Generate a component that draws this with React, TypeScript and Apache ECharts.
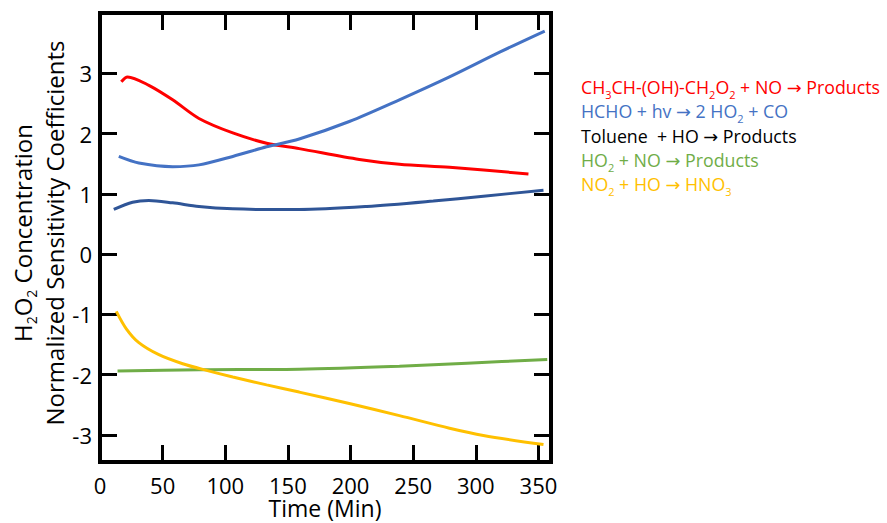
import React, { useEffect, useRef } from "react";
import * as echarts from "echarts";

const redTime = [17, 22, 39, 58, 79, 106, 133, 159, 207, 239, 279, 342];
const redValues = [2.86, 2.94, 2.8, 2.56, 2.25, 2.01, 1.84, 1.75, 1.57, 1.49, 1.44, 1.33];

const blueTime = [15, 31, 58, 79, 106, 133, 159, 199, 239, 279, 319, 355];
const blueValues = [1.62, 1.51, 1.45, 1.48, 1.62, 1.78, 1.91, 2.2, 2.56, 2.94, 3.35, 3.7];

const tolueneTime = [11, 26, 39, 58, 79, 106, 133, 159, 213, 266, 306, 354];
const tolueneValues = [0.74, 0.86, 0.89, 0.85, 0.79, 0.75, 0.74, 0.74, 0.79, 0.88, 0.96, 1.06];

const greenTime = [14, 79, 159, 239, 293, 357];
const greenValues = [-1.94, -1.92, -1.91, -1.86, -1.81, -1.75];

const yellowTime = [13, 21, 31, 47, 66, 85, 106, 133, 159, 199, 239, 279, 306, 354];
const yellowValues = [-0.95, -1.24, -1.47, -1.67, -1.82, -1.93, -2.04, -2.17, -2.29, -2.48, -2.68, -2.89, -3.01, -3.16];

const xAxisTitle = "Time (Min)";
const legendTexts = [
  "CH{sub|3}CH-(OH)-CH{sub|2}O{sub|2} + NO → Products",
  "HCHO + hv → 2 HO{sub|2} + CO",
  "Toluene  + HO → Products",
  "HO{sub|2} + NO → Products",
  "NO{sub|2} + HO → HNO{sub|3}",
];
const legendColors = ["#FF0000", "#4472C4", "#000000", "#70AD47", "#FFC000"];

const FONT = "'Open Sans', 'DejaVu Sans', sans-serif";

function pairs(t: number[], v: number[]) {
  return t.map((x, i) => [x, v[i]]);
}

export default function App() {
  const ref = useRef<HTMLDivElement>(null);
  useEffect(() => {
    document.body.style.margin = "0";
    if (!ref.current) return;
    const chart = echarts.init(ref.current, null, { renderer: "svg" });
    const tickStyle = { show: true, inside: true, length: 17, lineStyle: { color: "#000", width: 3 } };
    const noLine = { show: false, onZero: false };
    const mkLine = (name: string, data: number[][], color: string) => ({
      name,
      type: "line",
      data,
      smooth: 0.3,
      showSymbol: false,
      lineStyle: { color, width: 3 },
      xAxisIndex: 0,
      yAxisIndex: 0,
    });
    const subBase = { fontFamily: FONT, verticalAlign: "bottom", lineHeight: 14, padding: [0, 0, -4, 0] };
    chart.setOption({
      animation: false,
      grid: {
        left: 100,
        top: 13,
        right: 336,
        bottom: 61,
        show: true,
        borderWidth: 4,
        borderColor: "#000",
        containLabel: false,
        outerBoundsMode: "none",
      },
      xAxis: [
        {
          type: "value",
          min: 0,
          max: 360,
          interval: 50,
          position: "bottom",
          axisLine: noLine,
          axisTick: tickStyle,
          splitLine: { show: false },
          axisLabel: {
            color: "#000",
            fontSize: 22,
            lineHeight: 22,
            fontFamily: FONT,
            margin: 12,
            showMaxLabel: false,
          },
        },
        {
          type: "value",
          min: 0,
          max: 360,
          interval: 50,
          position: "top",
          axisLine: noLine,
          axisTick: tickStyle,
          splitLine: { show: false },
          axisLabel: { show: false },
        },
      ],
      yAxis: [
        {
          type: "value",
          min: -3.45,
          max: 4,
          splitNumber: 7,
          position: "left",
          axisLine: noLine,
          axisTick: tickStyle,
          splitLine: { show: false },
          axisLabel: {
            color: "#000",
            fontSize: 22,
            fontFamily: FONT,
            margin: 8,
            formatter: (v: number) => (Number.isInteger(v) && v < 4 ? String(v) : ""),
          },
        },
        {
          type: "value",
          min: -3.45,
          max: 4,
          splitNumber: 7,
          position: "right",
          axisLine: noLine,
          axisTick: tickStyle,
          splitLine: { show: false },
          axisLabel: { show: false },
        },
      ],
      series: [
        mkLine("red", pairs(redTime, redValues), "#FF0000"),
        mkLine("blue", pairs(blueTime, blueValues), "#4472C4"),
        mkLine("toluene", pairs(tolueneTime, tolueneValues), "#2F5597"),
        mkLine("green", pairs(greenTime, greenValues), "#70AD47"),
        mkLine("yellow", pairs(yellowTime, yellowValues), "#FFC000"),
      ],
      graphic: [
        {
          type: "text",
          x: 325,
          y: 508,
          style: {
            text: xAxisTitle,
            fill: "#000",
            fontSize: 23,
            lineHeight: 22,
            fontFamily: FONT,
            align: "center",
            verticalAlign: "middle",
          },
        },
        {
          type: "text",
          x: 22,
          y: 233,
          rotation: Math.PI / 2,
          style: {
            text: "H{sub|2}O{sub|2} Concentration",
            fill: "#000",
            fontSize: 24,
            fontFamily: FONT,
            align: "center",
            verticalAlign: "middle",
            rich: { sub: { ...subBase, fill: "#000", fontSize: 14 } },
          },
        },
        {
          type: "text",
          x: 54,
          y: 233,
          rotation: Math.PI / 2,
          style: {
            text: "Normalized Sensitivity Coefficients",
            fill: "#000",
            fontSize: 24,
            fontFamily: FONT,
            align: "center",
            verticalAlign: "middle",
          },
        },
        ...legendTexts.map((t, i) => ({
          type: "text",
          x: 581,
          y: 87 + i * 24.3,
          style: {
            text: t,
            fill: legendColors[i],
            fontSize: 17.8,
            fontFamily: FONT,
            align: "left",
            verticalAlign: "middle",
            rich: { sub: { ...subBase, fill: legendColors[i], fontSize: 11 } },
          },
        })),
      ],
    });
    return () => chart.dispose();
  }, []);
  return <div ref={ref} style={{ width: 887, height: 523 }} />;
}
